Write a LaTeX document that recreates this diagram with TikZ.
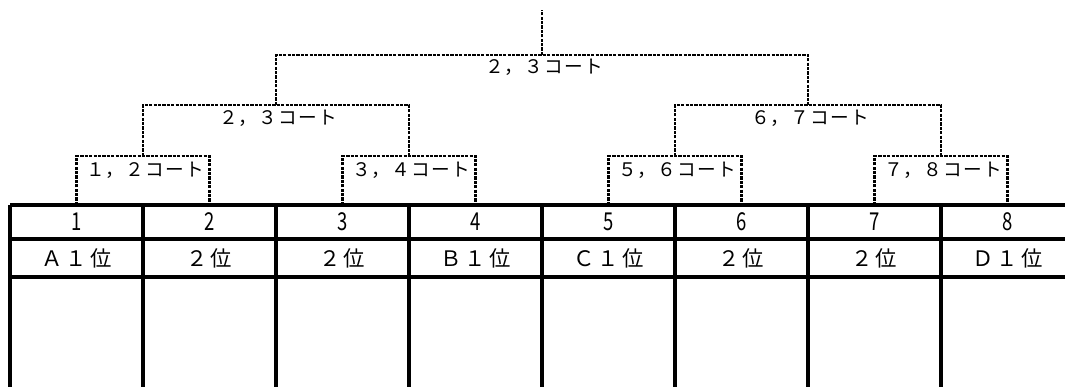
\documentclass[tikz,border=0pt]{standalone}
\usepackage{fontspec}
\newfontfamily\jpfont[LetterSpace=6]{Noto Sans CJK JP}
\newfontfamily\jpcell[LetterSpace=14]{Noto Sans CJK JP}
\newfontfamily\jpnum[FakeStretch=0.75]{Noto Sans CJK JP}

\tikzset{
  court/.style={line width=1.7pt, dash pattern=on 2.4pt off 0.9pt},
  tableline/.style={line width=2.6pt},
  courtlabel/.style={inner sep=0pt, font=\jpfont\fontsize{14}{16}\selectfont},
  seatnum/.style={inner sep=0pt, font=\jpnum\fontsize{18.5}{20}\selectfont},
  rank/.style={inner sep=0pt, font=\jpcell\fontsize{16}{18}\selectfont}
}

\begin{document}
\begin{tikzpicture}[x=0.75pt,y=-0.75pt]
      \useasboundingbox (0,0) rectangle (1065,387);

      % table
      \foreach \y in {205,239,277} \draw[tableline] (10,\y) -- (1065,\y);
      \foreach \i in {0,...,7} \draw[tableline] ({10+133*\i},205) -- ({10+133*\i},387);

      \foreach \i in {1,...,8} {
        \node[seatnum] (num\i) at ({76.5+133*(\i-1)},222) {\i};
        \coordinate (s\i) at ({76.5+133*(\i-1)},205);
      }
      \foreach \i/\t in {1/Ａ１位,2/２位,3/２位,4/Ｂ１位,5/Ｃ１位,6/２位,7/２位,8/Ｄ１位}
        \node[rank] (rank\i) at ({76.5+133*(\i-1)},258) {\t};

      % courts
      \coordinate (m1) at (143,156);
      \coordinate (m2) at (409,156);
      \coordinate (m3) at (675,156);
      \coordinate (m4) at (941,156);
      \coordinate (h1) at (276,105);
      \coordinate (h2) at (808,105);
      \coordinate (f) at (542,55);
      \coordinate (r) at (542,10);

      \draw[court] (s1) |- (m1) -| (s2);
      \draw[court] (s3) |- (m2) -| (s4);
      \draw[court] (s5) |- (m3) -| (s6);
      \draw[court] (s7) |- (m4) -| (s8);
      \draw[court] (m1) |- (h1) -| (m2);
      \draw[court] (m3) |- (h2) -| (m4);
      \draw[court] (h1) |- (f) -| (h2);
      \draw[court] (f) -- (r);

      \node[courtlabel] (c12) at (145,170) {１，２コート};
      \node[courtlabel] (c34) at (411,170) {３，４コート};
      \node[courtlabel] (c56) at (677,170) {５，６コート};
      \node[courtlabel] (c78) at (943,170) {７，８コート};
      \node[courtlabel] (c23) at (278,118) {２，３コート};
      \node[courtlabel] (c67) at (810,118) {６，７コート};
      \node[courtlabel] (cf) at (544,67) {２，３コート};
    \end{tikzpicture}
\end{document}
